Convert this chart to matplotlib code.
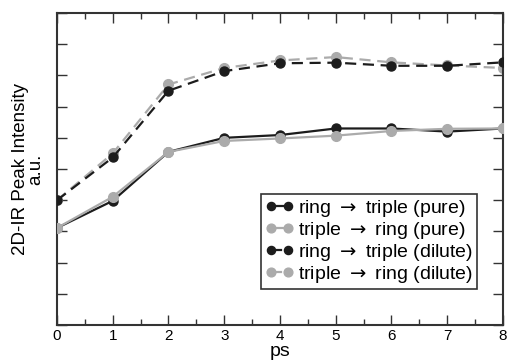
import matplotlib.pyplot as plt
import numpy as np

plt.rcParams['font.family'] = ['Liberation Sans', 'DejaVu Sans']

# delay time (ps)
t = [0, 1, 2, 3, 4, 5, 6, 7, 8]

# peak intensities (a.u.)
ring_triple_pure = [3.11, 3.98, 5.55, 6.00, 6.09, 6.30, 6.30, 6.20, 6.30]
triple_ring_pure = [3.11, 4.11, 5.55, 5.90, 5.98, 6.07, 6.22, 6.29, 6.30]
ring_triple_dilute = [4.00, 5.37, 7.51, 8.14, 8.39, 8.41, 8.31, 8.31, 8.42]
triple_ring_dilute = [4.00, 5.50, 7.71, 8.24, 8.48, 8.59, 8.42, 8.32, 8.24]

labels = [r'ring$\;\rightarrow\;$triple (pure)', r'triple$\;\rightarrow\;$ring (pure)',
          r'ring$\;\rightarrow\;$triple (dilute)', r'triple$\;\rightarrow\;$ring (dilute)']

black = '#1c1c1c'
grey = '#ababab'

fig = plt.figure(figsize=(5.07, 3.63), dpi=100)
ax = fig.add_axes([0.1124, 0.1047, 0.8796, 0.8593])

ax.plot(t, triple_ring_dilute, '--o', color=grey, lw=1.6, ms=7, dashes=(5, 3), label=labels[3], zorder=2)
ax.plot(t, ring_triple_dilute, '--o', color=black, lw=1.6, ms=6.5, dashes=(5, 3), label=labels[2], zorder=3)
ax.plot(t, ring_triple_pure, '-o', color=black, lw=1.6, ms=6.5, label=labels[0], zorder=3)
ax.plot(t, triple_ring_pure, '-o', color=grey, lw=1.6, ms=7, label=labels[1], zorder=4)

ax.set_xlim(0, 8)
ax.set_ylim(0, 10)
ax.set_xticks(range(9))
ax.set_xticks(np.arange(0.5, 8, 1), minor=True)
ax.set_yticks(range(11))
ax.set_yticklabels([])
ax.tick_params(axis='both', which='major', direction='in', length=7, width=1,
               top=True, right=True, labelsize=11, colors='#333333', pad=3)
ax.tick_params(axis='x', which='minor', direction='in', length=4, width=1,
               top=True, colors='#333333')
ax.tick_params(axis='x', labelcolor='black')
for s in ax.spines.values():
    s.set_color('#333333')
    s.set_linewidth(1.5)

ax.set_xlabel('ps', fontsize=14, labelpad=0)
ax.set_ylabel('2D-IR Peak Intensity\na.u.', fontsize=13.5, linespacing=0.85, labelpad=6)

h, l = ax.get_legend_handles_labels()
order = [2, 3, 1, 0]
leg = ax.legend([h[i] for i in order], [l[i] for i in order], loc='lower right',
                bbox_to_anchor=(0.942, 0.115), fontsize=14, handlelength=1.5,
                handletextpad=0.2, labelspacing=0.06, borderpad=0.2,
                borderaxespad=0, fancybox=False, framealpha=1,
                edgecolor='#333333', numpoints=2, markerscale=0.9)
leg.get_frame().set_linewidth(1.2)

plt.savefig('out.png', dpi=100)
